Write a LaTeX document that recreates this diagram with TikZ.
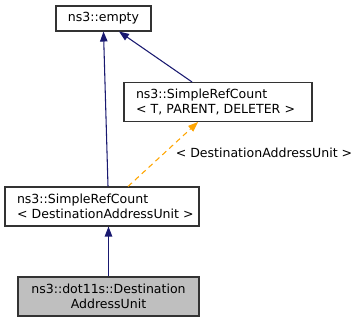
\documentclass[tikz,border=0pt]{standalone}
\usepackage{fontspec}
\setmainfont{DejaVu Sans}
\usetikzlibrary{arrows.meta,calc}
\definecolor{edgeblue}{HTML}{191970}
\definecolor{tmplorange}{HTML}{FFA500}
\definecolor{boxgray}{HTML}{BFBFBF}
\begin{document}
\begin{tikzpicture}[x=0.75pt,y=-0.75pt,
  every node/.style={font=\fontsize{9.4}{11.25}\selectfont},
  cls/.style={draw=black!80, line width=0.8pt, rectangle, inner ysep=0pt, minimum height=29.25pt, align=left, inner xsep=9pt},
  inherit/.style={draw=edgeblue, line width=0.8pt, -{Triangle[length=7.5pt,width=5.6pt]}},
  tmpl/.style={draw=tmplorange, line width=0.8pt, dash pattern=on 4pt off 3pt, -{Triangle[length=7.5pt,width=5.6pt,fill=tmplorange]}}]
\useasboundingbox (0,0) rectangle (363,323);

% classes
\node[draw=black!80, line width=0.8pt, minimum width=71.25pt, minimum height=18.75pt, inner sep=0pt] (empty) at (103.5,18.5) {ns3::empty};
\node[cls, text width=123pt] (srcT) at (218,102) {ns3::SimpleRefCount\\\mbox{< T, PARENT, DELETER >}};
\node[cls, text width=127.5pt] (srcD) at (102,206.5) {ns3::SimpleRefCount\\\mbox{< DestinationAddressUnit >}};
\node[draw=black!80, line width=0.8pt, fill=boxgray, minimum width=135.75pt, minimum height=29.25pt, inner sep=0pt, align=center] (dau) at (108.5,296.5) {ns3::dot11s::Destination\\AddressUnit};

% template argument label
\node (lbl) at (264,153) {< DestinationAddressUnit >};

% inheritance
\draw[inherit] (dau.north) -- (dau.north |- srcD.south);
\draw[inherit] ($(srcD.north)+(6,0)$) -- (empty.south);
\draw[inherit] ($(srcT.north)+(-26,0)$) -- ($(empty.south)+(15.5,0)$);
\draw[tmpl] ($(srcD.north)+(26,0)$) -- ($(srcT.south)+(-20,0)$);
\end{tikzpicture}
\end{document}
